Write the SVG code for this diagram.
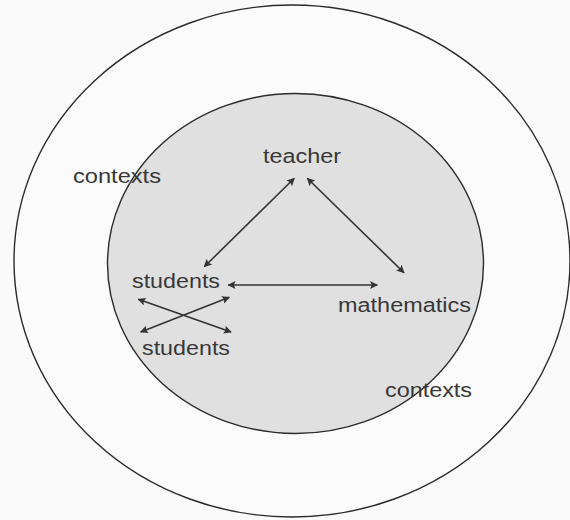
<svg xmlns="http://www.w3.org/2000/svg" width="570" height="520" viewBox="0 0 570 520">
<defs>
<style>
.ring{stroke:#2a2a2a;stroke-width:1.4}
.lbl{font-family:"Liberation Sans",Arial,sans-serif;font-size:19.5px;fill:#383838}
.conn{stroke:#333;stroke-width:1.6;fill:none;marker-start:url(#ah);marker-end:url(#ah)}
</style>
<marker id="ah" viewBox="0 0 10 10" refX="9" refY="5" markerWidth="11" markerHeight="8" markerUnits="userSpaceOnUse" orient="auto-start-reverse">
<path d="M0,0 L10,5 L0,10 L2,5 Z" fill="#333"/>
</marker>
</defs>
<rect width="570" height="520" fill="#fafafa"/>
<g id="outer-ring">
<ellipse class="ring" cx="292" cy="261" rx="278" ry="256" fill="#fbfbfb"/>
</g>
<g id="inner-circle">
<ellipse class="ring" cx="295.5" cy="263.5" rx="188" ry="170" fill="#e0e0e0"/>
</g>
<g id="contexts-top">
<text class="lbl" x="73" y="183" textLength="88" lengthAdjust="spacingAndGlyphs">contexts</text>
</g>
<g id="contexts-bottom">
<text class="lbl" x="385" y="397" textLength="87" lengthAdjust="spacingAndGlyphs">contexts</text>
</g>
<g id="teacher">
<text class="lbl" x="263" y="163" textLength="78" lengthAdjust="spacingAndGlyphs">teacher</text>
</g>
<g id="students-1">
<text class="lbl" x="132" y="288" textLength="88" lengthAdjust="spacingAndGlyphs">students</text>
</g>
<g id="mathematics">
<text class="lbl" x="338" y="311.5" textLength="133" lengthAdjust="spacingAndGlyphs">mathematics</text>
</g>
<g id="students-2">
<text class="lbl" x="142" y="355" textLength="88" lengthAdjust="spacingAndGlyphs">students</text>
</g>
<g id="connectors">
<line class="conn" x1="294.3" y1="178.3" x2="204.3" y2="266.7"/>
<line class="conn" x1="307.3" y1="178.3" x2="404" y2="272.7"/>
<line class="conn" x1="228.3" y1="285" x2="377.3" y2="285"/>
<line class="conn" x1="138.3" y1="299.3" x2="231" y2="332"/>
<line class="conn" x1="140.7" y1="332" x2="229.3" y2="297.3"/>
</g>
</svg>
